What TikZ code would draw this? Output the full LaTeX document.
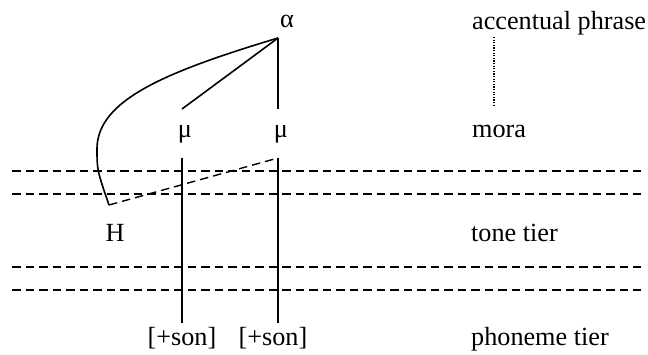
\documentclass[tikz,border=0pt]{standalone}
\usepackage{fontspec}
\setmainfont{Liberation Serif}
\usetikzlibrary{positioning}

\begin{document}
\begin{tikzpicture}[x=1bp,y=-1bp,font=\fontsize{26.3}{30}\selectfont]
    \tikzset{
      lbl/.style={inner sep=0pt,anchor=base west},
      seg/.style={inner sep=0pt,anchor=base},
      ln/.style={line width=1.6bp},
      tierline/.style={line width=1.4bp,dash pattern=on 8.5bp off 5bp},
      assoc/.style={line width=1.4bp,dash pattern=on 8.5bp off 5bp}}
    \useasboundingbox (0,0) rectangle (648,354);
    % labels on the right
    \node[lbl] (ap) at (472,29) {accentual phrase};
    \node[lbl] (mo) at (472,137) {mora};
    \node[lbl] (tt) at (471,241) {tone tier};
    \node[lbl] (pt) at (471,345) {phoneme tier};
    % the tree
    \node[seg] (alpha) at (287,27) {α};
    \node[seg] (mu1) at (185,137) {μ};
    \node[seg] (mu2) at (281,137) {μ};
    \node[seg] (H) at (115,241) {H};
    \node[seg] (son1) at (182,345) {[+son]};
    \node[seg] (son2) at (273,345) {[+son]};
    \coordinate (top) at (278,38);
    \coordinate (m1up) at (182,109);
    \coordinate (m2up) at (278,109);
    \coordinate (m1dn) at (182,158);
    \coordinate (m2dn) at (278,158);
    \coordinate (s1up) at (182,323);
    \coordinate (s2up) at (278,323);
    \coordinate (hk) at (109,205);
    \coordinate (apdn) at (494,37);
    \coordinate (moup) at (494,107);
    \foreach \y in {171,194,267,290} \draw[tierline] (12,\y) -- (641,\y);
    \draw[ln] (top) -- (m1up);
    \draw[ln] (top) -- (m2up);
    \draw[ln] (m1dn) -- (s1up);
    \draw[ln] (m2dn) -- (s2up);
    \draw[ln] (top) .. controls (165,72) and (98,100) .. (97,148) .. controls (97,170) .. (hk);
    \draw[assoc] (hk) -- (m2dn);
    \draw[line width=1.6bp,dash pattern=on 1.2bp off 1.4bp] (apdn) -- (moup);
  \end{tikzpicture}
\end{document}
